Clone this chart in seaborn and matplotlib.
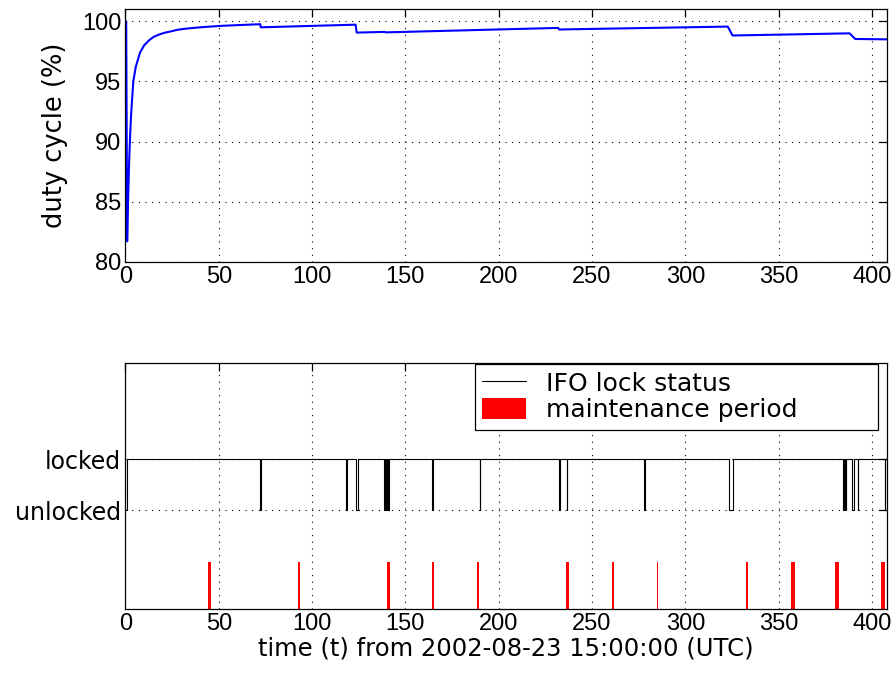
import numpy as np
import pandas as pd
import matplotlib
matplotlib.use("Agg")
import matplotlib.pyplot as plt
from matplotlib.lines import Line2D
from matplotlib.patches import Patch
import seaborn as sns

# ---------------- data ----------------
duty_t = [0.0, 0.4, 0.9, 1.3, 2.0, 2.5, 3.0, 4.2, 5.5, 7.8, 10.0, 12.5, 15.0,
          18.0, 21.0, 24.0, 28.0, 33.0, 40.0, 51.0, 60.0, 72.2, 72.5, 100.0,
          123.3, 123.9, 139.0, 139.6, 231.8, 232.4, 322.7, 325.3, 388.0,
          391.0, 408.0]
duty_v = [100.0, 100.0, 81.7, 84.5, 88.5, 90.5, 92.2, 95.0, 96.2, 97.4, 98.0,
          98.4, 98.7, 98.9, 99.05, 99.15, 99.3, 99.4, 99.5, 99.62, 99.68,
          99.76, 99.5, 99.62, 99.72, 99.06, 99.12, 99.08, 99.45, 99.32, 99.56,
          98.82, 99.0, 98.53, 98.5]

lock_t = [0.0, 0.8, 72.1, 72.6, 118.4, 118.6, 123.3, 124.4,
          138.6, 138.9, 139.2, 139.5, 139.8, 140.1, 140.4, 140.6, 140.9, 141.2,
          164.4, 164.7, 189.8, 190.0, 232.4, 232.6, 236.4, 236.8, 278.0, 278.4,
          323.3, 325.4, 384.7, 385.0, 385.3, 385.6, 385.9, 386.2,
          389.5, 390.5, 392.5, 392.7, 406.9, 407.1, 408.0]
lock_s = [0, 1, 0, 1, 0, 1, 0, 1,
          0, 1, 0, 1, 0, 1, 0, 1, 0, 1,
          0, 1, 0, 1, 0, 1, 0, 1, 0, 1,
          0, 1, 0, 1, 0, 1, 0, 1,
          0, 1, 0, 1, 0, 1, 1]

maint_start = [44.4, 92.6, 140.0, 164.2, 188.4, 236.3, 260.5, 284.7,
               332.5, 356.8, 380.4, 404.6]
maint_dur = [1.4, 0.7, 1.7, 1.1, 1.1, 1.1, 1.0, 0.7, 1.1, 1.8, 2.1, 2.1]

xticks = [0, 50, 100, 150, 200, 250, 300, 350, 400]
duty_yticks = [80, 85, 90, 95, 100]
lock_ticklabels = ["unlocked", "locked"]

# ---------------- style ----------------
sns.set_style("white")
plt.rcParams["font.family"] = ["DejaVu Sans"]
for k in ["text.color", "axes.labelcolor", "xtick.color", "ytick.color",
          "axes.edgecolor"]:
    plt.rcParams[k] = "black"

fig = plt.figure(figsize=(8.93, 6.73), dpi=100)
ax1 = fig.add_axes([0.1405, 0.6111, 0.8527, 0.3751])
ax2 = fig.add_axes([0.1405, 0.0955, 0.8527, 0.3656])

tickfont = "Liberation Sans"

def style_axes(ax):
    for sp in ax.spines.values():
        sp.set_color("black")
        sp.set_linewidth(0.9)
    ax.tick_params(direction="in", length=6, width=0.9, top=True, right=True,
                   colors="black", labelsize=17, pad=3)
    ax.grid(True, linestyle=(0, (1, 5)), color="black", linewidth=0.8)

# top: duty cycle
df_duty = pd.DataFrame({"t": duty_t, "duty": duty_v})
sns.lineplot(data=df_duty, x="t", y="duty", ax=ax1, color="#0000ff",
             linewidth=1.5, estimator=None, sort=False)
ax1.set_xlim(0, 408)
ax1.set_ylim(80, 101)
ax1.set_xticks(xticks)
ax1.set_yticks(duty_yticks)
ax1.set_xlabel("")
ax1.set_ylabel("duty cycle (%)", fontsize=18.5, labelpad=10)
style_axes(ax1)
for lab in ax1.get_xticklabels() + ax1.get_yticklabels():
    lab.set_family(tickfont)

# bottom: lock status + maintenance
df_lock = pd.DataFrame({"t": lock_t, "state": lock_s})
sns.lineplot(data=df_lock, x="t", y="state", ax=ax2, color="black",
             linewidth=0.8, drawstyle="steps-post", estimator=None, sort=False)
ax2.bar(maint_start, 2.0, width=maint_dur, bottom=-3.01, align="edge",
        color="#ff0000", linewidth=0)
ax2.set_xlim(0, 408)
ax2.set_ylim(-1.93, 2.89)
ax2.set_xticks(xticks)
ax2.set_yticks([0, 1])
ax2.set_yticklabels(lock_ticklabels)
ax2.set_ylabel("")
style_axes(ax2)
ax2.tick_params(axis="y", labelsize=17)
for lab in ax2.get_xticklabels():
    lab.set_family(tickfont)
ax2.set_xlabel("time (t) from 2002-08-23 15:00:00 (UTC)", fontsize=17.5,
               labelpad=1)

handles = [Line2D([0], [0], color="black", linewidth=0.8),
           Patch(facecolor="#ff0000", edgecolor="none")]
leg = ax2.legend(handles, ["IFO lock status", "maintenance period"],
                 loc="upper left", mode="expand",
                 bbox_to_anchor=(0.459, 0.5, 0.529, 0.494),
                 fontsize=18, frameon=True, fancybox=False,
                 edgecolor="black", framealpha=1, borderaxespad=0.0,
                 handlelength=1.75, handleheight=0.9, handletextpad=0.8,
                 borderpad=0.3, labelspacing=0.1)
leg.get_frame().set_linewidth(0.9)

fig.savefig("out.png", dpi=100)
